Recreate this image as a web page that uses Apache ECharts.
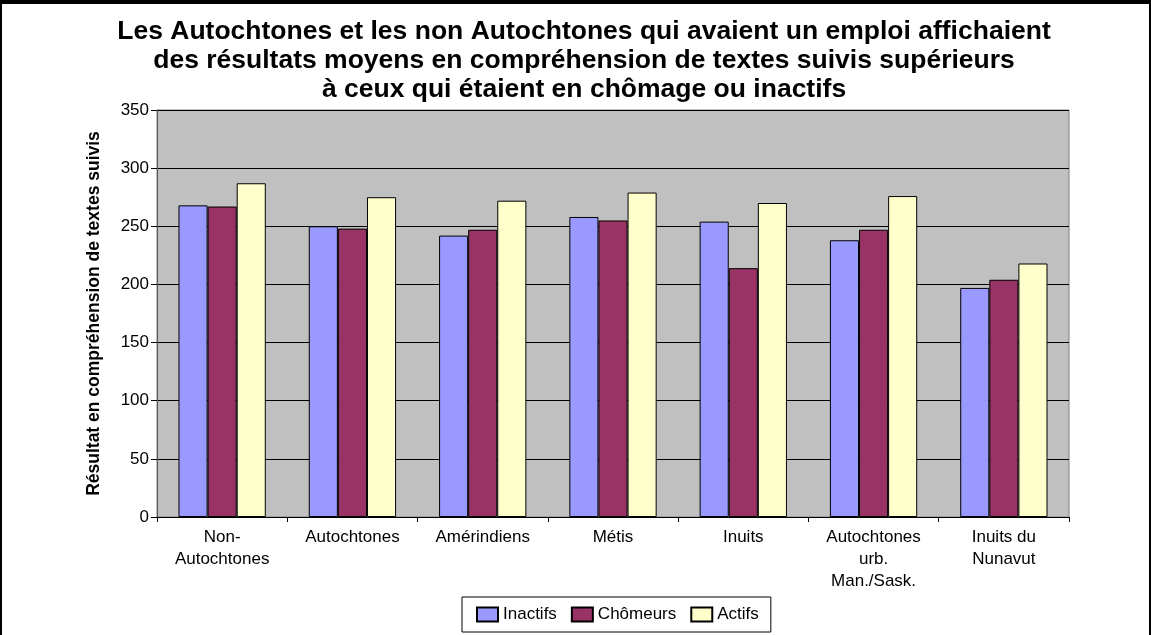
<!DOCTYPE html>
<html>
<head>
<meta charset="utf-8">
<script src="https://cdn.jsdelivr.net/npm/echarts@6/dist/echarts.min.js"></script>
<style>
html, body { margin: 0; padding: 0; background: #fff; }
#main { width: 1151px; height: 635px; box-sizing: border-box; border-top: 4px solid #000; border-left: 2px solid #000; border-right: 2px solid #000; }
</style>
</head>
<body>
<div id="main"></div>
<script>
var categories = ['Non-\nAutochtones', 'Autochtones', 'Amérindiens', 'Métis', 'Inuits', 'Autochtones\nurb.\nMan./Sask.', 'Inuits du\nNunavut'];
var inactifs = [268, 250, 242, 258, 254, 238, 197];
var chomeurs = [267, 248, 247, 255, 214, 247, 204];
var actifs = [287, 275, 272, 279, 270, 276, 218];
var yTicks = { min: 0, max: 350, interval: 50 };

var myChart = echarts.init(document.getElementById('main'));

var font = 'Liberation Sans, Arial, sans-serif';

option = {
	color: ['#9999ff', '#993366', '#ffffcc'],
	animation: false,
	title: {
		text: 'Les Autochtones et les non Autochtones qui avaient un emploi affichaient\ndes résultats moyens en compréhension de textes suivis supérieurs\nà ceux qui étaient en chômage ou inactifs',
		left: 582,
		textAlign: 'center',
		top: 13,
		padding: 0,
		textStyle: {
			fontFamily: font,
			fontWeight: 'bold',
			fontSize: 26.5,
			lineHeight: 29,
			color: '#000'
		}
	},
	legend: {
		top: 593,
		left: 460,
		padding: [9, 12, 9, 14],
		borderColor: '#000',
		borderWidth: 1,
		icon: 'rect',
		itemWidth: 21,
		itemHeight: 14,
		itemGap: 14,
		textStyle: { fontFamily: font, fontSize: 17, color: '#000' },
		data: ['Inactifs', 'Chômeurs', 'Actifs']
	},
	grid: {
		left: 155,
		right: 80,
		top: 106,
		bottom: 118,
		show: true,
		backgroundColor: '#c0c0c0',
		borderColor: '#808080',
		borderWidth: 1
	},
	xAxis: [{
		type: 'category',
		data: categories,
		axisLine: { lineStyle: { color: '#000', width: 1 } },
		axisTick: { show: true, length: 5, lineStyle: { color: '#000' } },
		axisLabel: {
			fontFamily: font,
			fontSize: 17,
			color: '#000',
			lineHeight: 22,
			margin: 9,
			interval: 0
		}
	}],
	yAxis: [{
		type: 'value',
		min: yTicks.min,
		max: yTicks.max,
		interval: yTicks.interval,
		name: 'Résultat en compréhension de textes suivis',
		nameLocation: 'middle',
		nameGap: 54,
		nameTextStyle: { fontFamily: font, fontWeight: 'bold', fontSize: 17.5, color: '#000' },
		axisLine: { show: true, lineStyle: { color: '#555', width: 1 } },
		axisTick: { show: true, length: 6, lineStyle: { color: '#000' } },
		axisLabel: { fontFamily: font, fontSize: 17, color: '#000', margin: 8 },
		splitLine: { show: true, lineStyle: { color: '#000', width: 1 } }
	}],
	series: [{
			name: 'Inactifs',
			type: 'bar',
			barGap: '0%',
			barCategoryGap: '33%',
			itemStyle: { borderColor: '#000', borderWidth: 1 },
			data: inactifs
		},
		{
			name: 'Chômeurs',
			type: 'bar',
			itemStyle: { borderColor: '#000', borderWidth: 1 },
			data: chomeurs
		},
		{
			name: 'Actifs',
			type: 'bar',
			itemStyle: { borderColor: '#000', borderWidth: 1 },
			data: actifs
		}
	]
};
myChart.setOption(option);
</script>
</body>
</html>
